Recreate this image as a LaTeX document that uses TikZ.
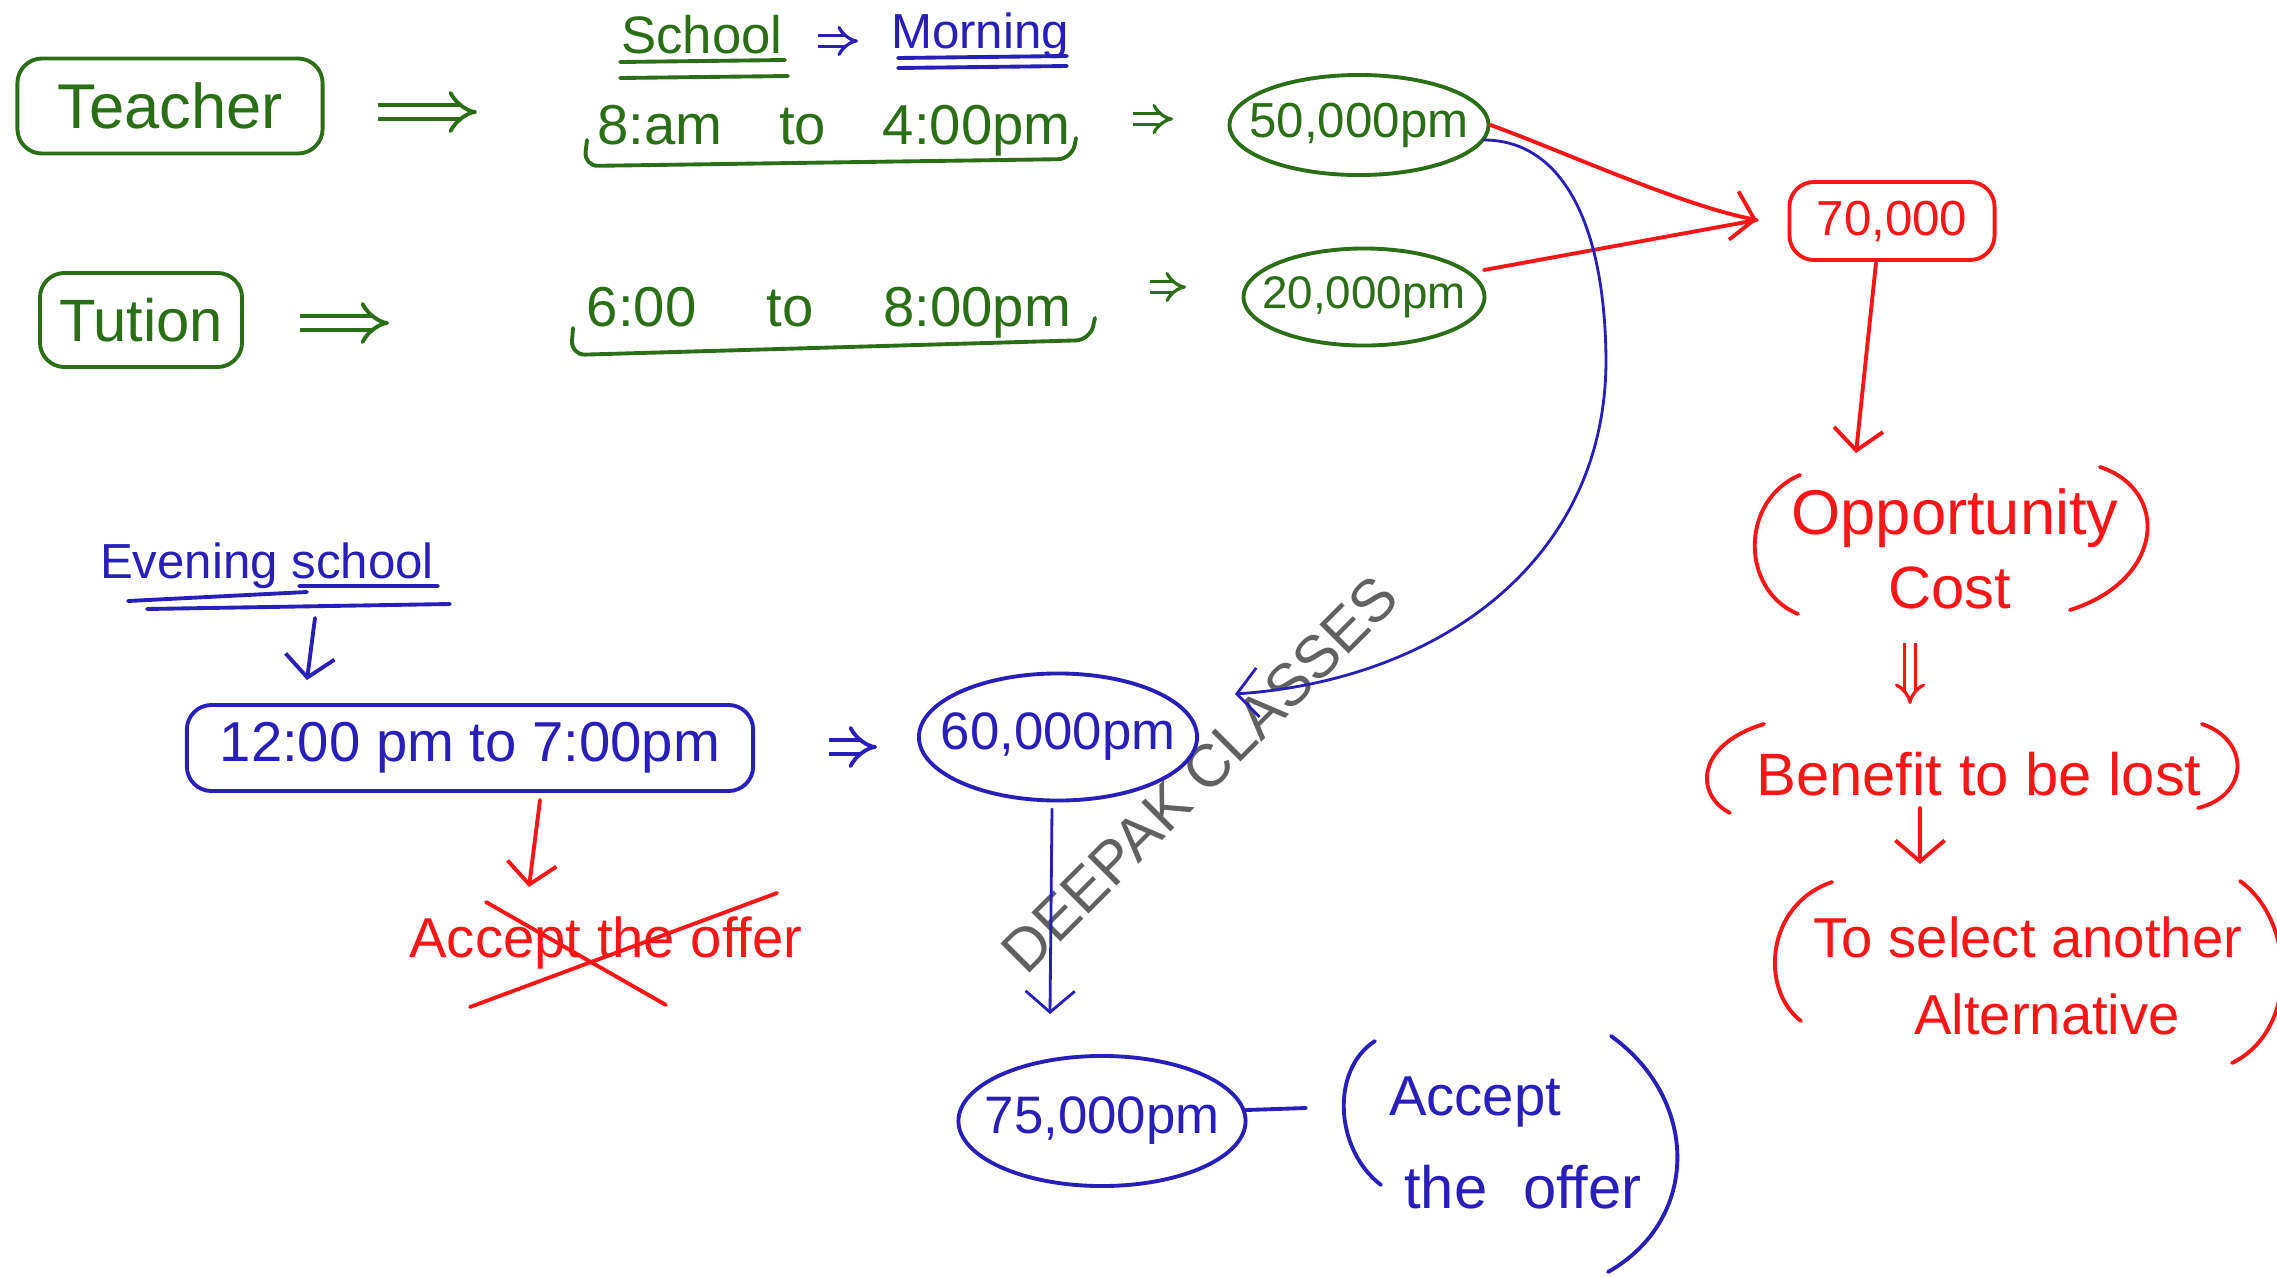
\documentclass[tikz,border=0pt]{standalone}
\usepackage{fontspec}
\setmainfont{Liberation Sans}
\usetikzlibrary{arrows.meta,shapes.geometric,calc}

\definecolor{inkgreen}{RGB}{42,110,22}
\definecolor{inkblue}{RGB}{40,30,185}
\definecolor{inkred}{RGB}{250,22,22}

\newcommand\inksize[1]{\fontsize{#1}{#1}\selectfont}

\tikzset{
  ink/.style={line width=1.1pt, line cap=round, line join=round},
  thinink/.style={line width=0.8pt, line cap=round, line join=round},
  lbl/.style={inner sep=0pt},
  gbox/.style={draw=inkgreen, ink, rounded corners=7pt, text=inkgreen, inner sep=0pt},
  bbox/.style={draw=inkblue, ink, rounded corners=7pt, text=inkblue, inner sep=0pt},
  rbox/.style={draw=inkred, ink, rounded corners=7pt, text=inkred, inner sep=0pt},
  oval/.style={ellipse, ink, inner sep=0pt},
  barb/.style={-{Straight Barb[length=6pt,width=14pt]}},
  dbl/.style={double, double distance=3pt, line width=1.1pt, -{Implies}},
  smalldbl/.style={double, double distance=2pt, line width=0.9pt, -{Implies}},
  paren/.style={ink}
}

\begin{document}
\begin{tikzpicture}[x=0.01cm, y=-0.01cm]
\fill[white] (0,0) rectangle (2277,1278);
\useasboundingbox (0,0) rectangle (2277,1278);

% watermark
\node[rotate=45, text=black!62, font=\inksize{17}] (mark) at (1200,774) {DEEPAK CLASSES};

% ---------- green: teacher and tuition ----------
\node[gbox, minimum width=3.05cm, minimum height=0.95cm, font=\inksize{18}] (teacher) at (170,106) {Teacher};
\node[gbox, minimum width=2.02cm, minimum height=0.94cm, font=\inksize{17}] (tution) at (141,320) {Tution};

\node[lbl, text=inkgreen, font=\inksize{15}] (school) at (702,35) {School};
\node[lbl, text=inkblue, font=\inksize{14}] (morning) at (980,36) {Morning};
\draw[inkgreen, ink] (620,62) -- (785,60) (620,78) -- (788,76);
\draw[inkblue, ink] (898,58) -- (1067,56) (898,68) -- (1067,66);

\node[lbl, text=inkgreen, font=\inksize{16}, text width=4.73cm] (t1) at (834,131) {8:am\hfill to\hfill 4:00pm};
\node[lbl, text=inkgreen, font=\inksize{16}, text width=4.84cm] (t2) at (829,313) {6:00\hfill to\hfill 8:00pm};
\draw[inkgreen, ink, rounded corners=4pt] (587,140) -- (584,166) -- (1072,159) -- (1076,138);
\draw[inkgreen, ink, rounded corners=4pt] (573,328) -- (571,355) -- (1090,340) -- (1095,318);

\node[oval, draw=inkgreen, text=inkgreen, minimum width=2.59cm, minimum height=1cm] (e50) at (1359,125) {\inksize{14}\makebox[0pt]{50,000pm}};
\node[oval, draw=inkgreen, text=inkgreen, minimum width=2.41cm, minimum height=0.97cm] (e20) at (1364,297) {\inksize{13}\makebox[0pt]{20,000pm}};

\draw[inkgreen, dbl] ($(teacher.center)+(208,6)$) -- ($(t1.center)+(-357,-19)$);
\draw[inkblue, smalldbl] ($(school.center)+(116,6)$) -- ($(morning.center)+(-122,5)$);
\draw[inkgreen, smalldbl] ($(t1.center)+(299,-12)$) -- ($(e50.center)+(-186,-6)$);
\draw[inkgreen, dbl] ($(tution.center)+(159,3)$) -- ($(t2.center)+(-440,10)$);
\draw[inkgreen, smalldbl] ($(t2.center)+(321,-26)$) -- ($(e20.center)+(-178,-10)$);

% ---------- red: opportunity cost chain ----------
\node[rbox, minimum width=2.05cm, minimum height=0.78cm, font=\inksize{14}] (r70) at (1892,221) {70,000};
\coordinate (conv) at ($(r70.center)+(-135,-1)$);
\draw[inkred, ink, barb] (e50.east) .. controls (1560,150) and (1680,205) .. (conv);
\draw[inkred, ink] ($(e20.center)+(120,-27)$) -- (conv);

\node[lbl, text=inkred, font=\inksize{18}] (opp) at (1955,518) {Opportunity};
\node[lbl, text=inkred, font=\inksize{17}] (cost) at (1950,588) {Cost};
\draw[paren, inkred] (1800,475) .. controls (1740,500) and (1740,590) .. (1798,614);
\draw[paren, inkred] (2100,467) .. controls (2170,490) and (2165,580) .. (2070,610);
\draw[inkred, ink, barb] ($(r70.center)+(-16,42)$) -- ($(opp.center)+(-99,-65)$);

\node[lbl, text=inkred, font=\inksize{17}] (benefit) at (1979,774) {Benefit to be lost};
\draw[paren, inkred] (1764,724) .. controls (1695,745) and (1695,795) .. (1730,813);
\draw[paren, inkred] (2202,724) .. controls (2250,740) and (2250,795) .. (2198,808);
\draw[inkred, smalldbl] ($(cost.center)+(-40,55)$) -- ($(benefit.center)+(-69,-70)$);

\node[lbl, text=inkred, font=\inksize{16}] (select) at (2028,937) {To select another};
\node[lbl, text=inkred, font=\inksize{16}] (alt) at (2047,1014) {Alternative};
\draw[paren, inkred] (1832,882) .. controls (1765,905) and (1760,990) .. (1801,1021);
\draw[paren, inkred] (2240,881) .. controls (2295,920) and (2300,1030) .. (2232,1063);
\draw[inkred, ink, barb] ($(benefit.center)+(-59,34)$) -- ($(select.center)+(-108,-73)$);

% ---------- blue: evening school ----------
\node[lbl, text=inkblue, font=\inksize{14}] (evening) at (267,566) {Evening school};
\draw[inkblue, ink] (299,586) -- (438,586) (128,601) -- (307,592) (147,609) -- (450,604);

\node[bbox, minimum width=5.66cm, minimum height=0.86cm, font=\inksize{16}] (box12) at (470,748) {12:00 pm to 7:00pm};
\node[oval, draw=inkblue, text=inkblue, minimum width=2.78cm, minimum height=1.27cm] (e60) at (1058,737) {\inksize{15}\makebox[0pt]{60,000pm}};
\node[oval, draw=inkblue, text=inkblue, minimum width=2.87cm, minimum height=1.3cm] (e75) at (1102,1121) {\inksize{15}\makebox[0pt]{75,000pm}};

\draw[inkblue, ink, barb] ($(evening.center)+(48,52)$) -- ($(box12.center)+(-163,-68)$);
\draw[inkblue, dbl] ($(box12.center)+(359,-1)$) -- ($(e60.center)+(-181,10)$);
\draw[inkblue, thinink, barb] ($(e60.center)+(-6,72)$) -- ($(e75.center)+(-52,-107)$);
\draw[inkblue, thinink, barb] ($(e50.center)+(125,15)$) .. controls (1560,140) and (1605,220) .. (1606,360)
      .. controls (1606,560) and (1440,680) .. ($(e60.center)+(177,-43)$);

% rejected offer
\node[lbl, text=inkred, font=\inksize{16}] (rej) at (606,943) {Accept the offer};
\draw[inkred, ink, barb] ($(box12.center)+(70,52)$) -- ($(rej.center)+(-77,-56)$);
\draw[inkred, ink] ($(rej.center)+(-120,-41)$) -- ($(rej.center)+(60,62)$);
\draw[inkred, ink] ($(rej.center)+(-136,64)$) -- ($(rej.center)+(171,-50)$);

% accepted offer
\node[lbl, text=inkblue, font=\inksize{16}] (acc) at (1475,1102) {Accept};
\node[lbl, text=inkblue, font=\inksize{17}] (offer) at (1523,1187) {the\hspace{0.6em}offer};
\coordinate (accline) at (1306,1108);
\draw[inkblue, ink] ($(e75.center)+(144,-11)$) -- (accline);
\draw[paren, inkblue] (1375,1041) .. controls (1330,1070) and (1335,1150) .. (1381,1185);
\draw[paren, inkblue] (1611,1036) .. controls (1700,1100) and (1700,1220) .. (1608,1272);
\end{tikzpicture}
\end{document}
